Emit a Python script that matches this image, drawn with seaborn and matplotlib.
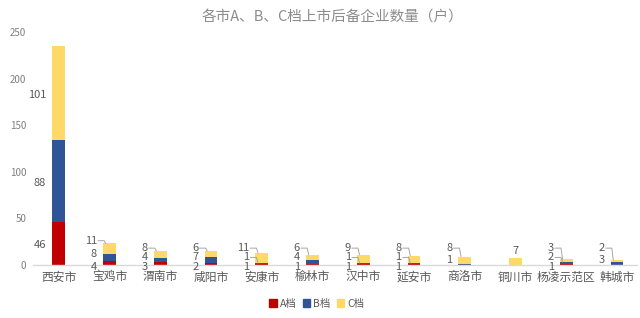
import numpy as np
import pandas as pd
import matplotlib
matplotlib.use("Agg")
import matplotlib.pyplot as plt
import seaborn as sns

cities = ["西安市", "宝鸡市", "渭南市", "咸阳市", "安康市", "榆林市", "汉中市",
          "延安市", "商洛市", "铜川市", "杨凌示范区", "韩城市"]
a_vals = [46, 4, 3, 2, 1, 1, 1, 1, 0, 0, 1, 0]
b_vals = [88, 8, 4, 7, 1, 4, 1, 1, 1, 0, 2, 3]
c_vals = [101, 11, 8, 6, 11, 6, 9, 8, 8, 7, 3, 2]
series_names = ["A档", "B档", "C档"]
colors = ["#C00000", "#2F5597", "#FFD966"]
title = "各市A、B、C档上市后备企业数量（户）"

sns.set_theme(style="white")
plt.rcParams["font.family"] = ["Noto Sans CJK SC", "DejaVu Sans"]

a = np.array(a_vals, float)
b = np.array(b_vals, float)
c = np.array(c_vals, float)
df = pd.DataFrame({"city": cities, "A": a, "AB": a + b, "ABC": a + b + c})

fig = plt.figure(figsize=(6.4, 3.18), dpi=100)
ax = fig.add_axes([0.052, 0.167, 0.944, 0.732])

bw = 0.25
sns.barplot(data=df, x="city", y="ABC", color=colors[2], width=bw, ax=ax,
            saturation=1, order=cities, linewidth=0)
sns.barplot(data=df, x="city", y="AB", color=colors[1], width=bw, ax=ax,
            saturation=1, order=cities, linewidth=0)
sns.barplot(data=df, x="city", y="A", color=colors[0], width=bw, ax=ax,
            saturation=1, order=cities, linewidth=0)

ax.set_ylim(0, 250)
ax.set_xlim(-0.5, 11.4)
ax.set_yticks(range(0, 251, 50))
ax.set_xlabel("")
ax.set_ylabel("")
for s in ["top", "right", "left"]:
    ax.spines[s].set_visible(False)
ax.spines["bottom"].set_color("#d9d9d9")
ax.spines["bottom"].set_linewidth(1.0)
ax.tick_params(axis="y", length=0, labelsize=7, labelcolor="#7f7f7f", pad=5)
ax.tick_params(axis="x", length=0, labelsize=8.5, labelcolor="#595959", pad=4)

txt = "#595959"
lc = "#a6a6a6"
for i in range(len(cities)):
    segs = []
    bottom = 0.0
    for v in (a[i], b[i], c[i]):
        if v > 0:
            segs.append((v, bottom, bottom + v))
        bottom += v
    total = bottom
    left = i - bw / 2
    if len(segs) == 1 and total < 20:
        ax.text(i, total + 3, f"{int(segs[0][0])}", ha="center", va="bottom",
                fontsize=8, color=txt)
        continue
    small = min(s[0] for s in segs) < 12
    n = len(segs)
    if not small:
        ys = [(s[1] + s[2]) / 2 - 2 for s in segs]
    else:
        top = max(total + 3, 18)
        if n == 2:
            ys = [top - 13, top]
        else:
            bot = -2
            ys = list(np.linspace(bot, top, n))
    for (v, lo, hi), ly in zip(segs, ys):
        center = (lo + hi) / 2
        lx = left - 0.12
        ax.text(lx, ly, f"{int(v)}", ha="right", va="center", fontsize=8,
                color=txt)
        if small and abs(ly - center) > 5:
            ty = hi if ly > center else lo
            ax.plot([lx + 0.02, left + 0.02, left + 0.05], [ly, ly, ty],
                    color=lc, lw=0.7, clip_on=False)

fig.text(0.52, 0.945, title, ha="center", va="center", fontsize=10.5,
         color="#8c8c8c")

handles = [plt.Rectangle((0, 0), 1, 1, color=col) for col in colors]
fig.legend(handles, series_names, loc="center", bbox_to_anchor=(0.495, 0.045),
           ncol=3, frameon=False, fontsize=7.5, handlelength=0.7,
           handleheight=0.7, handletextpad=0.3, columnspacing=0.6,
           labelcolor="#595959")

fig.savefig("out.png", dpi=100)
